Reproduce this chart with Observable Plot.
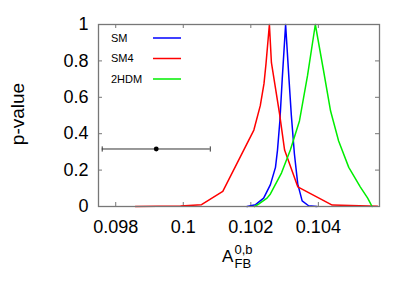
<!DOCTYPE html>
<html>
<head>
<meta charset="utf-8">
<script src="https://cdn.jsdelivr.net/npm/d3@7"></script>
<script src="https://cdn.jsdelivr.net/npm/@observablehq/plot@0.6"></script>
<style>
  html, body { margin: 0; padding: 0; background: #fff; }
  #chart svg { display: block; }
</style>
</head>
<body>
<div id="chart"></div>
<script>
// ---- data ----
const seriesNames = ["SM", "SM4", "2HDM"];
const seriesColors = ["#0000ff", "#ff0000", "#00ee00"];

const smX  = [0.10189, 0.10214, 0.10238, 0.10258, 0.10273, 0.10279, 0.10286, 0.10293, 0.10303, 0.10313, 0.10320, 0.10329, 0.10339, 0.10352, 0.10371, 0.10396];
const smP  = [0.0,     0.010,   0.046,   0.120,   0.215,   0.310,   0.470,   0.700,   1.0,     0.700,   0.500,   0.290,   0.123,   0.031,   0.004,   0.0];

const sm4X = [0.09858, 0.09992, 0.10054, 0.10117, 0.10209, 0.10228, 0.10239, 0.10245, 0.10255, 0.10261, 0.10285, 0.10300, 0.10339, 0.10441, 0.10575];
const sm4P = [0.0,     0.003,   0.010,   0.083,   0.420,   0.554,   0.675,   0.785,   1.0,     0.790,   0.510,   0.310,   0.108,   0.008,   0.002];

const hdmX = [0.10211, 0.10223, 0.10248, 0.10258, 0.10291, 0.10317, 0.10344, 0.10368, 0.10391, 0.10415, 0.10436, 0.10460, 0.10490, 0.10524, 0.10546, 0.10559];
const hdmP = [0.0,     0.013,   0.046,   0.069,   0.185,   0.310,   0.470,   0.720,   1.0,     0.750,   0.526,   0.360,   0.215,   0.108,   0.046,   0.0];

const measVal = 0.0992, measErr = 0.0016, measP = 0.316;

const xTicks = [0.098, 0.1, 0.102, 0.104];
const yTicks = [0, 0.2, 0.4, 0.6, 0.8, 1];
const xDomain = [0.09749, 0.10581];

// ---- build table ----
const curves = [
  ...smX.map((x, i) => ({series: "SM", x, p: smP[i]})),
  ...sm4X.map((x, i) => ({series: "SM4", x, p: sm4P[i]})),
  ...hdmX.map((x, i) => ({series: "2HDM", x, p: hdmP[i]}))
];
const meas = [{val: measVal, lo: measVal - measErr, hi: measVal + measErr, p: measP}];

// layout
const W = 415, H = 291, mL = 98, mR = 36, mT = 24, mB = 85;
const innerW = W - mL - mR, innerH = H - mT - mB;
const tickLen = 4;
const axisGray = "#777";
const FONT = "'Liberation Sans', Arial, sans-serif";

const vbar = {draw(ctx, size) { const r = Math.sqrt(size / Math.PI); ctx.moveTo(0, -r); ctx.lineTo(0, r); }};

const chart = Plot.plot({
  width: W, height: H,
  marginLeft: mL, marginRight: mR, marginTop: mT, marginBottom: mB,
  style: {fontFamily: FONT, fontSize: "18px", background: "#fff", color: "#000"},
  x: {domain: xDomain},
  y: {domain: [0, 1]},
  color: {domain: seriesNames, range: seriesColors},
  marks: [
    Plot.axisX(xTicks, {tickSize: 0, tickPadding: 14, tickFormat: d => String(d), label: null, fontSize: 18}),
    Plot.axisY(yTicks, {tickSize: 0, tickPadding: 10, tickFormat: d => String(d), label: null, fontSize: 18}),
    // inward ticks on all four sides
    Plot.tickX(xTicks, {x: d => d, insetTop: innerH - tickLen, stroke: axisGray}),
    Plot.tickX(xTicks, {x: d => d, insetBottom: innerH - tickLen, stroke: axisGray}),
    Plot.tickY(yTicks, {y: d => d, insetRight: innerW - tickLen, stroke: axisGray}),
    Plot.tickY(yTicks, {y: d => d, insetLeft: innerW - tickLen, stroke: axisGray}),
    // measurement with error bar
    Plot.ruleY(meas, {y: "p", x1: "lo", x2: "hi", stroke: "#333", strokeWidth: 1}),
    Plot.dot(meas.flatMap(d => [{x: d.lo, p: d.p}, {x: d.hi, p: d.p}]), {x: "x", y: "p", symbol: vbar, r: 2.6, stroke: "#333", strokeWidth: 1}),
    Plot.dot(meas, {x: "val", y: "p", r: 2.4, fill: "#000", stroke: "none"}),
    // curves
    Plot.line(curves, {x: "x", y: "p", z: "series", stroke: "series", strokeWidth: 1.5, curve: "linear"}),
    Plot.frame({stroke: axisGray, strokeWidth: 1.3})
  ]
});

const svg = d3.select(chart);

// legend
const legX = 111, legLine0 = 153, legLine1 = 181, legY0 = 38, legDy = 20.5;
seriesNames.forEach((name, i) => {
  const y = legY0 + i * legDy;
  svg.append("text").attr("x", legX).attr("y", y).attr("dy", "0.35em")
    .attr("text-anchor", "start")
    .attr("font-size", 11).attr("font-family", FONT)
    .attr("fill", "#000").text(name);
  svg.append("line").attr("x1", legLine0).attr("x2", legLine1).attr("y1", y).attr("y2", y)
    .attr("stroke", seriesColors[i]).attr("stroke-width", 1.5);
});

// y label
svg.append("text")
  .attr("transform", `translate(24,114) rotate(-90)`)
  .attr("text-anchor", "middle")
  .attr("font-size", 19).attr("font-family", FONT)
  .attr("fill", "#000").text("p-value");

// x label A_FB^{0,b}
const xl = svg.append("g").attr("font-family", FONT).attr("fill", "#000").attr("text-anchor", "start");
xl.append("text").attr("x", 222).attr("y", 261.5).attr("font-size", 17).attr("text-anchor", "start").text("A");
xl.append("text").attr("x", 234.5).attr("y", 253.5).attr("font-size", 13).attr("text-anchor", "start").text("0,b");
xl.append("text").attr("x", 234.5).attr("y", 267.5).attr("font-size", 13).attr("text-anchor", "start").text("FB");

document.getElementById("chart").appendChild(chart);
</script>
</body>
</html>
